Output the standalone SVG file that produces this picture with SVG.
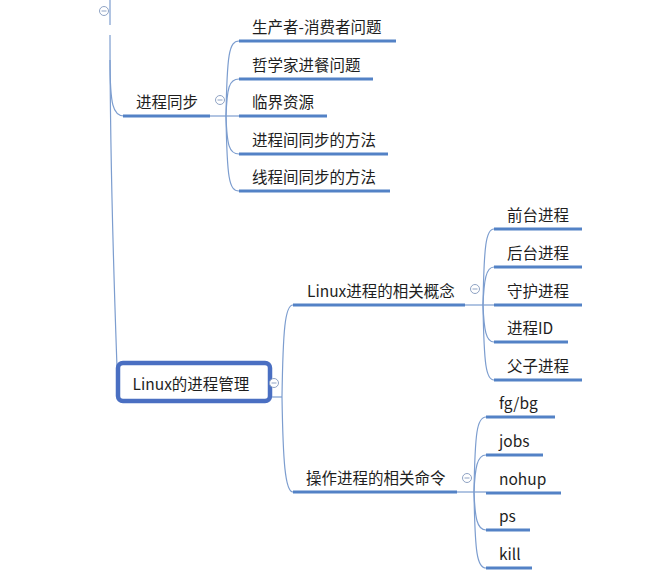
<svg xmlns="http://www.w3.org/2000/svg" width="645" height="577" viewBox="0 0 645 577">
<style>
.t{font-family:"Noto Sans CJK SC","Liberation Sans",sans-serif;font-size:15.5px;fill:#1e1e1e}
.ul{stroke:#5382c6;stroke-width:3;fill:none}
.c{stroke:#7c9dcf;stroke-width:1.2;fill:none}
.col circle{fill:#fff;stroke:#8fa3c4;stroke-width:1}
.col line{stroke:#8fa3c4;stroke-width:1}
</style>
<rect width="645" height="577" fill="#fff"/>
<g id="connectors">
<path class="c" d="M110,0 V25"/>
<path class="c" d="M110,35 C110,200 116,330 118,398"/>
<path class="c" d="M110,60 C110,105 113,116 124,116"/>
<path class="c" d="M210,116 H239"/>
<path class="c" d="M226,116 C227,55 229,41 239,41"/>
<path class="c" d="M226,116 C227,88 229,79 239,79"/>
<path class="c" d="M226,116 C227,145 229,154 239,154"/>
<path class="c" d="M226,116 C227,178 229,191 239,191"/>
<path class="c" d="M272,397 H282"/>
<path class="c" d="M282,397 C283,330 285,305 293,305"/>
<path class="c" d="M282,397 C283,460 285,492 293,492"/>
<path class="c" d="M465,305 H494"/>
<path class="c" d="M483,305 C484,245 486,229 494,229"/>
<path class="c" d="M483,305 C484,280 486,267 494,267"/>
<path class="c" d="M483,305 C484,330 486,342 494,342"/>
<path class="c" d="M483,305 C484,365 486,380 494,380"/>
<path class="c" d="M457,492 H486"/>
<path class="c" d="M474,492 C475,432 477,417 486,417"/>
<path class="c" d="M474,492 C475,468 477,455 486,455"/>
<path class="c" d="M474,492 C475,518 477,530 486,530"/>
<path class="c" d="M474,492 C475,553 477,568 486,568"/>
</g>
<g class="col">
<g><circle cx="104" cy="11" r="4.5"/><line x1="101.5" y1="11" x2="106.5" y2="11"/></g>
<g><circle cx="220" cy="100" r="4.5"/><line x1="217.5" y1="100" x2="222.5" y2="100"/></g>
<g><circle cx="475" cy="289" r="4.5"/><line x1="472.5" y1="289" x2="477.5" y2="289"/></g>
<g><circle cx="467" cy="478" r="4.5"/><line x1="464.5" y1="478" x2="469.5" y2="478"/></g>
</g>
<g id="n-sync"><path class="ul" d="M123,116 H210"/><text class="t" x="136" y="108">进程同步</text></g>
<g id="n-pc"><path class="ul" d="M239,41 H396"/><text class="t" x="252" y="33">生产者-消费者问题</text></g>
<g id="n-phil"><path class="ul" d="M239,79 H373"/><text class="t" x="252" y="71">哲学家进餐问题</text></g>
<g id="n-crit"><path class="ul" d="M239,116 H327"/><text class="t" x="252" y="108">临界资源</text></g>
<g id="n-psync"><path class="ul" d="M239,154 H388"/><text class="t" x="252" y="146">进程间同步的方法</text></g>
<g id="n-tsync"><path class="ul" d="M239,191 H390"/><text class="t" x="252" y="183">线程间同步的方法</text></g>
<g id="n-linux">
<rect x="118" y="363" width="152" height="38" rx="5" fill="#fff" stroke="#4a6fc2" stroke-width="4.5"/>
<text class="t" x="191" y="390" text-anchor="middle">Linux的进程管理</text>
</g>
<g class="col"><circle cx="274" cy="383" r="4.5"/><line x1="271.5" y1="383" x2="276.5" y2="383"/></g>
<g id="n-concept"><path class="ul" d="M293,305 H465"/><text class="t" x="307" y="297">Linux进程的相关概念</text></g>
<g id="n-fg"><path class="ul" d="M494,229 H582"/><text class="t" x="507" y="221">前台进程</text></g>
<g id="n-bg"><path class="ul" d="M494,267 H582"/><text class="t" x="507" y="259">后台进程</text></g>
<g id="n-daemon"><path class="ul" d="M494,305 H582"/><text class="t" x="507" y="297">守护进程</text></g>
<g id="n-pid"><path class="ul" d="M494,342 H568"/><text class="t" x="507" y="334">进程ID</text></g>
<g id="n-parent"><path class="ul" d="M494,380 H582"/><text class="t" x="507" y="372">父子进程</text></g>
<g id="n-cmd"><path class="ul" d="M293,492 H457"/><text class="t" x="306" y="484">操作进程的相关命令</text></g>
<g id="n-fgbg"><path class="ul" d="M486,417 H555"/><text class="t" x="499" y="409">fg/bg</text></g>
<g id="n-jobs"><path class="ul" d="M486,455 H543"/><text class="t" x="499" y="447">jobs</text></g>
<g id="n-nohup"><path class="ul" d="M486,493 H561"/><text class="t" x="499" y="485">nohup</text></g>
<g id="n-ps"><path class="ul" d="M486,530 H530"/><text class="t" x="499" y="522">ps</text></g>
<g id="n-kill"><path class="ul" d="M486,568 H532"/><text class="t" x="499" y="560">kill</text></g>
</svg>
